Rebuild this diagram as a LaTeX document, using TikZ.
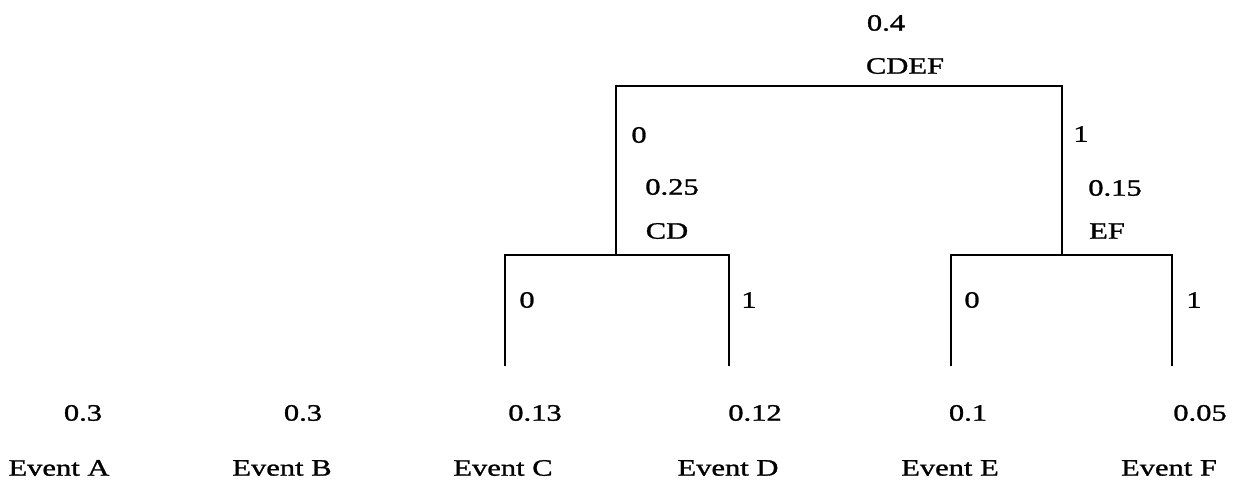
\documentclass[tikz,border=0pt]{standalone}
\usepackage{fontspec}
\setmainfont{Liberation Serif}[FakeStretch=1.3,FakeBold=1.2]
\begin{document}
\begin{tikzpicture}[x=1pt,y=-1pt,
  branch/.style={line width=2pt,line cap=rect,line join=miter},
  lbl/.style={inner sep=0pt,anchor=center,font=\fontsize{23.5}{27}\selectfont}]
\useasboundingbox (0,0) rectangle (1244,483);

% junction points of the code tree
\coordinate (root) at (839,86);
\coordinate (cd) at (616,255);
\coordinate (ef) at (1062,255);
\coordinate (c) at (505,365);
\coordinate (d) at (729,365);
\coordinate (e) at (951,365);
\coordinate (f) at (1172,365);

% brackets
\draw[branch] (cd) -- (cd |- root) -- (ef |- root) -- (ef);
\draw[branch] (c) -- (c |- cd) -- (d |- cd) -- (d);
\draw[branch] (e) -- (e |- ef) -- (f |- ef) -- (f);

% merged nodes
\node[lbl] (pCDEF) at (886,23) {0.4};
\node[lbl] (nCDEF) at (905,66) {CDEF};
\node[lbl] (pCD) at (672,187) {0.25};
\node[lbl] (nCD) at (667,231) {CD};
\node[lbl] (pEF) at (1115,188) {0.15};
\node[lbl] (nEF) at (1107,231) {EF};

% branch bits
\node[lbl] (b0) at (639,135) {0};
\node[lbl] (b1) at (1081,134) {1};
\node[lbl] (bc) at (527,300) {0};
\node[lbl] (bd) at (749,300) {1};
\node[lbl] (be) at (972,300) {0};
\node[lbl] (bf) at (1194,300) {1};

% leaves
\node[lbl] (pA) at (83,413) {0.3};
\node[lbl] (pB) at (303,413) {0.3};
\node[lbl] (pC) at (535,413) {0.13};
\node[lbl] (pD) at (755,413) {0.12};
\node[lbl] (pE) at (968,413) {0.1};
\node[lbl] (pF) at (1200,413) {0.05};

\node[lbl] (eA) at (59,468) {Event A};
\node[lbl] (eB) at (282,468) {Event B};
\node[lbl] (eC) at (503,468) {Event C};
\node[lbl] (eD) at (728,468) {Event D};
\node[lbl] (eE) at (950,468) {Event E};
\node[lbl] (eF) at (1169,468) {Event F};
\end{tikzpicture}
\end{document}
